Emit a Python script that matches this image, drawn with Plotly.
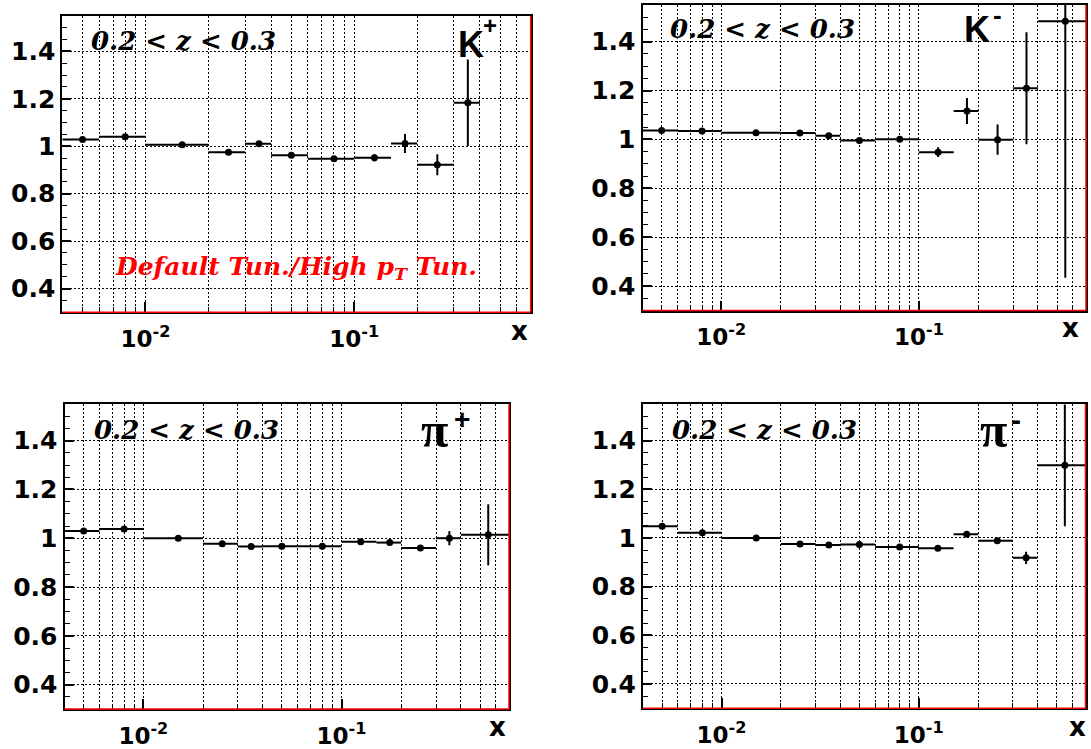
import math
import plotly.graph_objects as go

# ---------------- data ----------------
bin_lo = [0.004, 0.006, 0.01, 0.02, 0.03, 0.04, 0.06, 0.1, 0.15, 0.2, 0.3, 0.4]
bin_hi = [0.006, 0.01, 0.02, 0.03, 0.04, 0.06, 0.1, 0.15, 0.2, 0.3, 0.4, 0.7]
x_centers = [0.005, 0.008, 0.015, 0.025, 0.035, 0.05, 0.08, 0.125, 0.175, 0.25, 0.35, 0.55]

kplus_ratio = [1.028, 1.040, 1.006, 0.975, 1.010, 0.962, 0.947, 0.951, 1.011, 0.922, 1.183]
kplus_err = [0.005, 0.005, 0.004, 0.005, 0.005, 0.006, 0.008, 0.015, 0.040, 0.044, 0.182]

kminus_ratio = [1.037, 1.034, 1.027, 1.026, 1.015, 0.996, 1.001, 0.948, 1.116, 0.999, 1.209, 1.484]
kminus_err = [0.005, 0.005, 0.004, 0.005, 0.006, 0.007, 0.009, 0.020, 0.053, 0.062, 0.229, 1.050]

piplus_ratio = [1.030, 1.038, 1.000, 0.977, 0.966, 0.967, 0.967, 0.985, 0.982, 0.960, 1.000, 1.014]
piplus_err = [0.004, 0.004, 0.003, 0.004, 0.004, 0.004, 0.005, 0.006, 0.008, 0.010, 0.029, 0.125]

piminus_ratio = [1.048, 1.021, 1.000, 0.975, 0.971, 0.973, 0.963, 0.957, 1.015, 0.988, 0.918, 1.298]
piminus_err = [0.004, 0.004, 0.003, 0.004, 0.004, 0.004, 0.005, 0.006, 0.008, 0.010, 0.025, 0.250]

x_major_ticks = [0.01, 0.1]
x_major_text = ["10<sup>-2</sup>", "10<sup>-1</sup>"]
x_minor_ticks = [0.005, 0.006, 0.007, 0.008, 0.009,
                 0.02, 0.03, 0.04, 0.05, 0.06, 0.07, 0.08, 0.09,
                 0.2, 0.3, 0.4, 0.5, 0.6]
x_range = [0.004, 0.7]
y_range = [0.3, 1.55]

z_label = "0.2 < z < 0.3"
particle_base = ["K", "K", "π", "π"]
particle_charge = ["+", "-", "+", "-"]
ratio_label = "Default Tun./High p<sub>T</sub> Tun."

# ---------------- layout geometry (pixels) ----------------
W, H = 1091, 749
# (left, right, top, bottom) in pixels
panels_px = [
    (62.3, 530.7, 15.7, 312.3),
    (642.5, 1086.0, 5.0, 310.5),
    (64.5, 509.0, 404.0, 709.0),
    (643.0, 1085.5, 404.0, 708.3),
]

series = [
    (kplus_ratio, kplus_err),
    (kminus_ratio, kminus_err),
    (piplus_ratio, piplus_err),
    (piminus_ratio, piminus_err),
]

fig = go.Figure()

GRID = dict(gridcolor="black", griddash="2px,2px", gridwidth=1.2)

for i, ((ratio, err), (l, r, t, b)) in enumerate(zip(series, panels_px)):
    n = len(ratio)
    xs = x_centers[:n]
    ex_plus = [h - c for h, c in zip(bin_hi[:n], xs)]
    ex_minus = [c - lo for lo, c in zip(bin_lo[:n], xs)]
    suffix = "" if i == 0 else str(i + 1)
    fig.add_trace(go.Scatter(
        x=xs, y=ratio, mode="markers",
        marker=dict(color="black", size=7),
        error_y=dict(type="data", array=err, thickness=2, width=0, color="black"),
        error_x=dict(type="data", symmetric=False, array=ex_plus, arrayminus=ex_minus,
                     thickness=2, width=0, color="black"),
        xaxis="x" + suffix, yaxis="y" + suffix, showlegend=False,
        hoverinfo="skip",
    ))
    xdom = [l / W, r / W]
    ydom = [1 - b / H, 1 - t / H]
    xa = dict(
        domain=xdom, type="log",
        range=[math.log10(x_range[0]), math.log10(x_range[1])],
        tickmode="array", tickvals=x_major_ticks, ticktext=x_major_text,
        ticks="inside", ticklen=10, tickwidth=1.5, tickcolor="black",
        showgrid=True, **GRID,
        minor=dict(tickmode="array", tickvals=x_minor_ticks, ticks="inside",
                   ticklen=5, tickwidth=1, tickcolor="black", showgrid=True, **GRID),
        showline=True, linecolor="black", linewidth=2, mirror=True,
        zeroline=False,
        tickfont=dict(family="DejaVu Sans", size=23, color="black", weight="bold"),
        ticklabelstandoff=5,
        anchor="y" + suffix,
    )
    ya = dict(
        domain=ydom, range=y_range,
        tick0=0.4, dtick=0.2,
        ticks="inside", ticklen=9, tickwidth=1.5, tickcolor="black",
        showgrid=True, **GRID,
        minor=dict(dtick=0.05, tick0=0.3, ticks="inside", ticklen=5, tickwidth=1,
                   tickcolor="black", showgrid=False),
        showline=True, linecolor="black", linewidth=2, mirror=True,
        zeroline=False,
        tickfont=dict(family="DejaVu Sans", size=25, color="black", weight="bold"),
        anchor="x" + suffix,
    )
    fig.layout["xaxis" + suffix] = xa
    fig.layout["yaxis" + suffix] = ya

    # red frame lines on right and bottom edges
    fig.add_shape(type="line", xref="x" + suffix + " domain", yref="y" + suffix + " domain",
                  x0=1, x1=1, y0=0, y1=1, line=dict(color="red", width=1.5), layer="above")
    fig.add_shape(type="line", xref="x" + suffix + " domain", yref="y" + suffix + " domain",
                  x0=0, x1=1, y0=0, y1=0, line=dict(color="red", width=1.5), layer="above")

# ---------------- text ----------------
def P(px, py):
    return px / W, 1 - py / H

annots = []
z_pos = [(89, 41), (668, 29), (92, 430), (670, 430)]
for (px, py) in z_pos:
    x, y = P(px, py)
    annots.append(dict(x=x, y=y, xref="paper", yref="paper", text=z_label,
                       xanchor="left", yanchor="middle", showarrow=False,
                       font=dict(family="DejaVu Serif", size=26, color="black",
                                 weight="bold", style="italic")))

# particle symbols: base glyph + charge placed at top right
base_pos = [(456, 44), (962, 29), (419, 430), (978, 430)]
charge_pos = [(490, 26), (997, 15), (462, 419), (1016, 420)]
base_fonts = [dict(family="Liberation Sans", size=36, color="black", weight="bold"),
              dict(family="Liberation Sans", size=36, color="black", weight="bold"),
              dict(family="Liberation Serif", size=50, color="black", weight="bold"),
              dict(family="Liberation Serif", size=50, color="black", weight="bold")]
charge_sizes = [24, 26, 28, 30]
for (bx, by), (cx, cy), btxt, ctxt, bf, cs in zip(base_pos, charge_pos, particle_base,
                                                  particle_charge, base_fonts, charge_sizes):
    x, y = P(bx, by)
    annots.append(dict(x=x, y=y, xref="paper", yref="paper", text=btxt,
                       xanchor="left", yanchor="middle", showarrow=False, font=bf))
    x, y = P(cx, cy)
    annots.append(dict(x=x, y=y, xref="paper", yref="paper", text=ctxt,
                       xanchor="center", yanchor="middle", showarrow=False,
                       font=dict(family="Liberation Sans", size=cs, color="black",
                                 weight="bold")))

x_title_pos = [(519.5, 331), (1070, 328), (497, 727), (1077, 727)]
for (px, py) in x_title_pos:
    x, y = P(px, py)
    annots.append(dict(x=x, y=y, xref="paper", yref="paper", text="x",
                       xanchor="center", yanchor="middle", showarrow=False,
                       font=dict(family="DejaVu Sans", size=26, color="black", weight="bold")))

x, y = P(113, 268)
annots.append(dict(x=x, y=y, xref="paper", yref="paper", text=ratio_label,
                   xanchor="left", yanchor="middle", showarrow=False,
                   font=dict(family="DejaVu Serif", size=25, color="red",
                             weight="bold", style="italic")))

fig.update_layout(
    width=W, height=H,
    margin=dict(l=0, r=0, t=0, b=0),
    paper_bgcolor="white", plot_bgcolor="white",
    annotations=annots,
    showlegend=False,
)

fig.write_html("out.html",
               config={"displayModeBar": False},
               post_script="document.body.style.margin='0px';document.body.style.padding='0px';")
